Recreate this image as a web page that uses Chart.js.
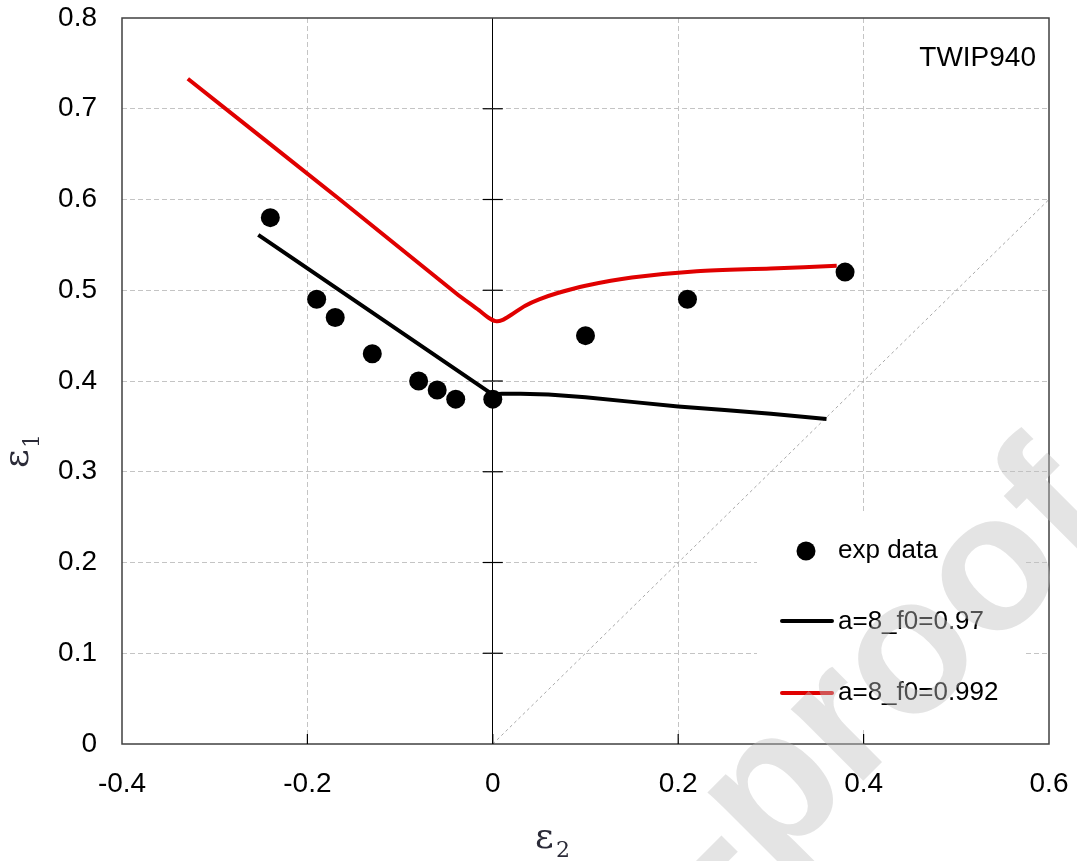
<!DOCTYPE html>
<html>
<head>
<meta charset="utf-8">
<script src="https://cdn.jsdelivr.net/npm/chart.js@4.4.1/dist/chart.umd.min.js"></script>
<style>
  body { margin: 0; background: #fff; }
  #wrap { width: 1077px; height: 861px; }
</style>
</head>
<body>
<div id="wrap"><canvas id="myChart" width="1077" height="861"></canvas></div>
<script>
// exp data (eps2, eps1)
const expX = [-0.24, -0.19, -0.17, -0.13, -0.08, -0.06, -0.04, 0, 0.10, 0.21, 0.38];
const expY = [0.58, 0.49, 0.47, 0.43, 0.40, 0.39, 0.38, 0.38, 0.45, 0.49, 0.52];

// a=8_f0=0.97
const blackX = [-0.253, 0, 0.01, 0.03, 0.06, 0.1, 0.15, 0.2, 0.25, 0.3, 0.36];
const blackY = [0.561, 0.385, 0.386, 0.386, 0.385, 0.382, 0.377, 0.372, 0.368, 0.364, 0.358];

// a=8_f0=0.992
const redX = [-0.329, -0.165, -0.04, -0.015, -0.005, 0.003, 0.01, 0.02, 0.035, 0.05, 0.07, 0.1, 0.15, 0.22, 0.3, 0.371];
const redY = [0.733, 0.6, 0.497, 0.478, 0.47, 0.466, 0.467, 0.473, 0.483, 0.49, 0.497, 0.505, 0.514, 0.521, 0.524, 0.527];

// eps1 = eps2 reference line
const diagX = [0, 0.6];
const diagY = [0, 0.6];

const xTicks = [-0.4, -0.2, 0, 0.2, 0.4, 0.6];
const yTicks = [0, 0.1, 0.2, 0.3, 0.4, 0.5, 0.6, 0.7, 0.8];

const legendLabels = ["exp data", "a=8_f0=0.97", "a=8_f0=0.992"];
const boxLabel = "TWIP940";

function pts(xs, ys) {
  return xs.map((x, i) => ({ x: x, y: ys[i] }));
}

const RED = "#e00000";
const GRID = "#c4c4c4";

const data = {
  datasets: [
    {
      label: legendLabels[0],
      data: pts(expX, expY),
      showLine: false,
      pointRadius: 9.5,
      pointBackgroundColor: "#000",
      pointBorderWidth: 0,
    },
    {
      label: legendLabels[1],
      data: pts(blackX, blackY),
      showLine: true,
      borderColor: "#000",
      borderWidth: 4,
      borderJoinStyle: "round",
      pointRadius: 0,
      tension: 0,
    },
    {
      label: legendLabels[2],
      data: pts(redX, redY),
      showLine: true,
      borderColor: RED,
      borderWidth: 4,
      borderJoinStyle: "round",
      pointRadius: 0,
      tension: 0.3,
    },
    {
      label: "diag",
      data: pts(diagX, diagY),
      showLine: true,
      borderColor: "#a8a8a8",
      borderWidth: 1,
      borderDash: [3, 3],
      pointRadius: 0,
    },
  ],
};

// frame, tick marks, legend, labels, watermark
const decor = {
  id: "decor",
  afterDatasetsDraw(chart) {
    const { ctx, chartArea: a, scales } = chart;
    const x = scales.x, y = scales.y;
    ctx.save();
    // frame
    ctx.strokeStyle = "#404040";
    ctx.lineWidth = 1.5;
    ctx.strokeRect(a.left, a.top, a.right - a.left, a.bottom - a.top);
    // x tick marks (inside, from bottom)
    ctx.lineWidth = 1.2;
    ctx.strokeStyle = "#000";
    xTicks.slice(1, -1).forEach((v) => {
      const px = x.getPixelForValue(v);
      ctx.beginPath();
      ctx.moveTo(px, a.bottom);
      ctx.lineTo(px, a.bottom - 10);
      ctx.stroke();
    });
    // y tick marks crossing the x=0 axis
    const x0 = x.getPixelForValue(0);
    yTicks.slice(1, -1).forEach((v) => {
      const py = y.getPixelForValue(v);
      ctx.beginPath();
      ctx.moveTo(x0 - 10, py);
      ctx.lineTo(x0 + 10, py);
      ctx.stroke();
    });

    // legend box
    ctx.fillStyle = "#fff";
    ctx.fillRect(757, 513, 268, 214);
    ctx.fillStyle = "#000";
    ctx.beginPath();
    ctx.arc(806, 551, 9.5, 0, Math.PI * 2);
    ctx.fill();
    ctx.lineWidth = 4;
    ctx.lineCap = "round";
    ctx.strokeStyle = "#000";
    ctx.beginPath();
    ctx.moveTo(782, 621);
    ctx.lineTo(832, 621);
    ctx.stroke();
    ctx.strokeStyle = RED;
    ctx.beginPath();
    ctx.moveTo(782, 693);
    ctx.lineTo(832, 693);
    ctx.stroke();
    ctx.font = "26px 'Liberation Sans', Arial, sans-serif";
    ctx.textBaseline = "middle";
    ctx.textAlign = "left";
    ctx.fillStyle = "#000";
    ctx.fillText(legendLabels[0], 838, 551);
    ctx.fillText(legendLabels[1], 838, 622);
    ctx.fillText(legendLabels[2], 838, 693);
    ctx.restore();
  },
  afterDraw(chart) {
    const ctx = chart.ctx;
    ctx.save();
    // TWIP940
    ctx.font = "28px 'Liberation Sans', Arial, sans-serif";
    ctx.textAlign = "right";
    ctx.textBaseline = "alphabetic";
    ctx.fillStyle = "#000";
    ctx.fillText(boxLabel, 1036, 66);

    // x axis title: eps_2
    ctx.fillStyle = "#2b2b38";
    ctx.textAlign = "left";
    ctx.font = "36px 'DejaVu Serif', serif";
    ctx.fillText("\u03b5", 535, 848);
    ctx.font = "22px 'DejaVu Serif', serif";
    ctx.fillText("2", 556, 857);

    // y axis title: eps_1
    ctx.save();
    ctx.translate(28, 468);
    ctx.rotate(-Math.PI / 2);
    ctx.font = "36px 'DejaVu Serif', serif";
    ctx.fillText("\u03b5", 0, 0);
    ctx.font = "22px 'DejaVu Serif', serif";
    ctx.fillText("1", 20, 11);
    ctx.restore();

    // watermark
    ctx.save();
    const fs = 193;
    ctx.font = "bold " + fs + "px 'Liberation Sans', Arial, sans-serif";
    ctx.translate(913, 660);
    ctx.rotate(-45 * Math.PI / 180);
    const pre = ctx.measureText("Journal Pre-pr").width;
    ctx.fillStyle = "rgba(190,190,190,0.42)";
    ctx.textAlign = "left";
    ctx.textBaseline = "alphabetic";
    ctx.fillText("Journal Pre-proof", -pre - 0.305 * fs, 0.26 * fs);
    ctx.restore();

    ctx.restore();
  },
};

Chart.defaults.color = "#000";
Chart.defaults.font.family = "'Liberation Sans', Arial, sans-serif";

const config = {
  type: "scatter",
  data: data,
  options: {
    responsive: false,
    devicePixelRatio: 1,
    animation: false,
    layout: { padding: { top: 18, right: 28, left: 0, bottom: 0 } },
    plugins: {
      legend: { display: false },
      title: { display: false },
      tooltip: { enabled: false },
    },
    scales: {
      x: {
        type: "linear",
        min: -0.4,
        max: 0.6,
        afterBuildTicks: (s) => {
          s.ticks = xTicks.map((v) => ({ value: v }));
        },
        afterFit: (s) => {
          s.height = 117;
          s.paddingLeft = 0;
          s.paddingRight = 0;
        },
        ticks: {
          padding: 23,
          font: { size: 28 },
          maxRotation: 0,
          callback: (v) => String(v),
        },
        grid: {
          drawTicks: false,
          lineWidth: 1,
          color: (c) => {
            const v = c.tick ? c.tick.value : null;
            if (v === 0) return "#000";
            if (v === -0.4 || v === 0.6) return "rgba(0,0,0,0)";
            return GRID;
          },
        },
        border: {
          display: false,
          dash: (c) => (c.tick && c.tick.value === 0 ? [] : [5, 3]),
        },
      },
      y: {
        type: "linear",
        min: 0,
        max: 0.8,
        afterBuildTicks: (s) => {
          s.ticks = yTicks.map((v) => ({ value: v }));
        },
        afterFit: (s) => {
          s.width = 122;
          s.paddingTop = 0;
          s.paddingBottom = 0;
        },
        ticks: {
          padding: 25,
          font: { size: 28 },
          callback: (v) => String(v),
        },
        grid: {
          drawTicks: false,
          lineWidth: 1,
          color: (c) => {
            const v = c.tick ? c.tick.value : null;
            if (v === 0 || v === 0.8) return "rgba(0,0,0,0)";
            return GRID;
          },
        },
        border: { display: false, dash: [5, 3] },
      },
    },
  },
  plugins: [decor],
};

var myChart = new Chart(document.getElementById("myChart"), config);
</script>
</body>
</html>
